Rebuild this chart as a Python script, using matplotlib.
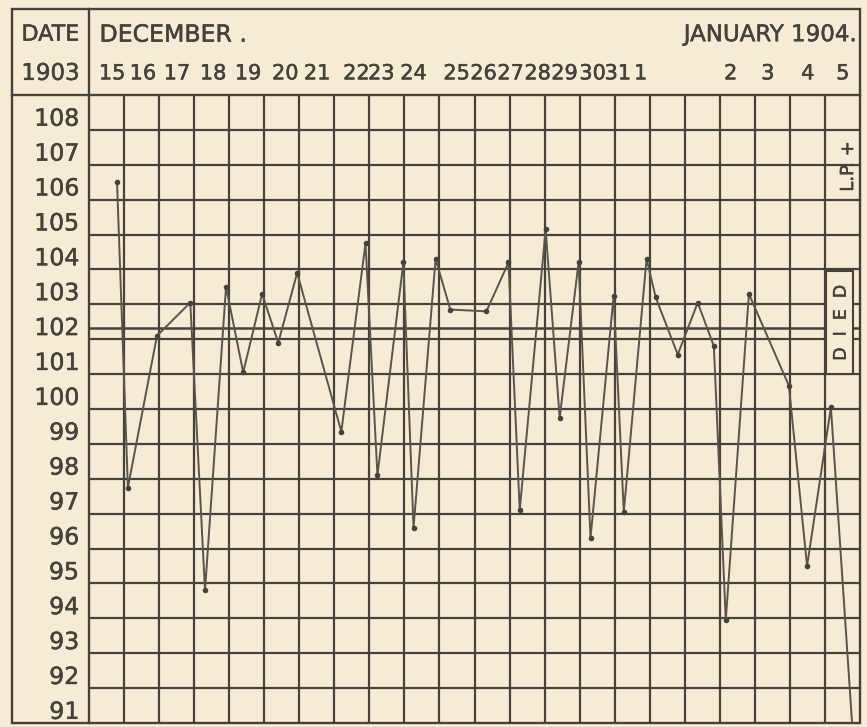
import matplotlib.pyplot as plt
import matplotlib.patheffects as pe
from matplotlib.patches import Rectangle

# day columns of the chart
day_labels = ['15', '16', '17', '18', '19', '20', '21', '22', '23', '24', '25',
              '26', '27', '28', '29', '30', '31', '1', '2', '3', '4', '5']
# where each hand-lettered date sits along the header row (in days)
day_label_x = [0.66, 1.54, 2.51, 3.54, 4.54, 5.6, 6.51, 7.63, 8.34, 9.26, 10.49,
               11.26, 12.03, 12.8, 13.57, 14.37, 15.09, 15.74, 18.31, 19.37, 20.51, 21.51]

temp_ticks = list(range(91, 109))

# morning / evening readings: time in days from 15 Dec, temperature in F
reading_day = [0.80, 1.11, 1.94, 2.89, 3.31, 3.91, 4.40, 4.94, 5.40, 5.94,
               7.20, 7.89, 8.23, 8.97, 9.26, 9.89, 10.31, 11.34, 11.97, 12.29,
               13.03, 13.43, 13.97, 14.31, 14.97, 15.26, 15.91, 16.17, 16.80, 17.37,
               17.83, 18.17, 18.83, 19.97, 20.49, 21.17, 21.80]
reading_temp = [106.5, 97.75, 102.1, 103.05, 94.8, 103.5, 101.05, 103.3, 101.9, 103.9,
                99.35, 104.75, 98.1, 104.2, 96.6, 104.3, 102.85, 102.8, 104.2, 97.1,
                105.15, 99.75, 104.2, 96.3, 103.25, 97.05, 104.3, 103.2, 101.56, 103.05,
                101.8, 93.95, 103.3, 100.67, 95.5, 100.05, 90.6]
normal_line = 102.33

paper = '#f6ebd4'
ink = '#45423a'
trace = '#59554d'

fig = plt.figure(figsize=(8.67, 7.27), dpi=100, facecolor=paper)
ax = fig.add_axes([89 / 867, 4 / 727, 771 / 867, 628 / 727])
ax.set_facecolor(paper)
ax.set_xlim(0, 22)
ax.set_ylim(91, 109)
for s in ax.spines.values():
    s.set_visible(False)
ax.set_xticks([])
ax.set_yticks([])

left_edge = -2.2
top_edge = 111.46

# grid
for d in range(1, 22):
    ax.plot([d, d], [91, 109], color=ink, lw=1.6, zorder=1)
for t in range(92, 109):
    ax.plot([0, 22], [t, t], color=ink, lw=1.6, zorder=1)
ax.plot([0, 22], [normal_line, normal_line], color=ink, lw=1.8, zorder=1)

# frame, header rule and the date column divider
ax.add_patch(Rectangle((left_edge, 91), 22 - left_edge, top_edge - 91, fill=False,
                       ec=ink, lw=1.7, clip_on=False, zorder=2))
ax.plot([left_edge, 22], [109, 109], color=ink, lw=1.7, clip_on=False, zorder=2)
ax.plot([0, 0], [91, top_edge], color=ink, lw=1.7, clip_on=False, zorder=2)

# temperature trace
ax.plot(reading_day, reading_temp, color=trace, lw=1.4, marker='o', ms=3,
        mfc=ink, mec=ink, zorder=3)

# lettering, a touch heavier than the default weight
heavy = [pe.withStroke(linewidth=0.35, foreground=ink)]
font = dict(family='DejaVu Sans', color=ink, path_effects=heavy)
ax.text(left_edge / 2, 110.73, 'DATE', ha='center', va='center', fontsize=16, **font)
ax.text(left_edge / 2, 109.62, '1903', ha='center', va='center', fontsize=16.5, **font)
ax.text(0.3, 110.73, 'DECEMBER .', ha='left', va='center', fontsize=17, **font)
ax.text(21.9, 110.73, 'JANUARY 1904.', ha='right', va='center', fontsize=16.5, **font)
for lab, x in zip(day_labels, day_label_x):
    ax.text(x, 109.62, lab, ha='center', va='center', fontsize=15, **font)

# temperature scale
for t in temp_ticks:
    ax.text(-0.28, t + 0.32, str(t), ha='right', va='center', fontsize=17, **font)

# notes on the last day
ax.add_patch(Rectangle((21.03, 101.0), 0.77, 2.95, fc=paper, ec=ink, lw=1.5, zorder=4))
ax.text(21.45, 102.47, 'D  I  E  D', rotation=90, ha='center', va='center',
        fontsize=12.5, zorder=5, **font)
ax.text(21.66, 106.95, 'L.P. +', rotation=90, ha='center', va='center',
        fontsize=13, zorder=5, **font)

fig.savefig('out.png', dpi=100, facecolor=paper)
